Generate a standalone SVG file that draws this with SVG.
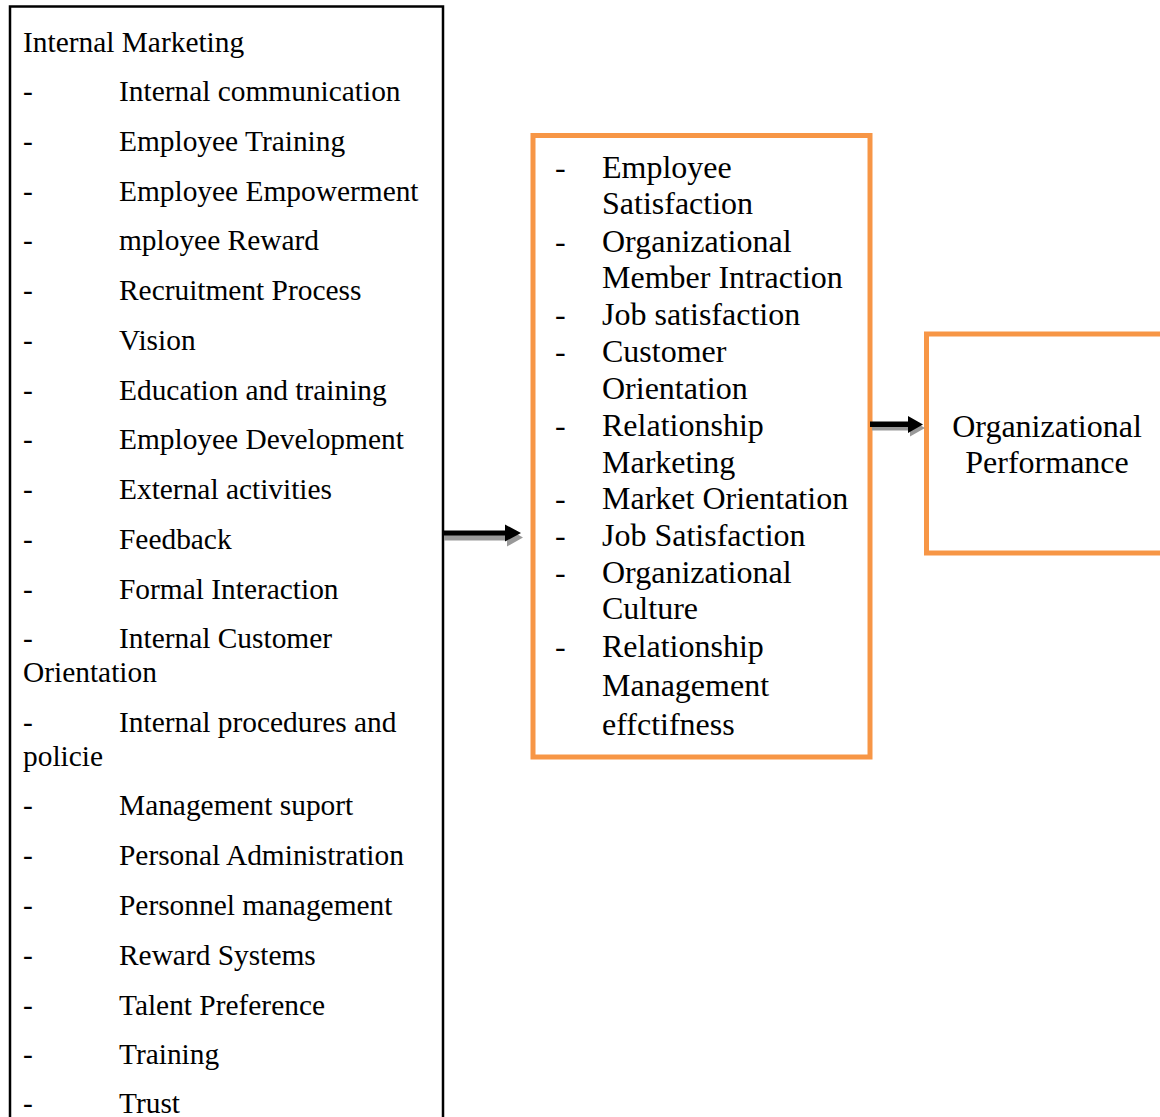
<svg xmlns="http://www.w3.org/2000/svg" width="1160" height="1117" viewBox="0 0 1160 1117">
<style>
.t{font-family:"Liberation Serif","Times New Roman",serif;fill:#000}
.l{font-size:29.4px}
.m{font-size:32px}
.ob{fill:#fff;stroke:#F79646;stroke-width:5}
.bb{fill:#fff;stroke:#000;stroke-width:2.5}
.sh{fill:#999}
.ar{fill:#000}
</style>
<rect width="1160" height="1117" fill="#fff"/>
<g id="internal-marketing">
<rect class="bb" x="10" y="6.5" width="433" height="1200"/>
<g class="t l">
<text x="23" y="52">Internal Marketing</text>
<text x="23" y="101">-</text><text x="119" y="101">Internal communication</text>
<text x="23" y="151">-</text><text x="119" y="151">Employee Training</text>
<text x="23" y="201">-</text><text x="119" y="201">Employee Empowerment</text>
<text x="23" y="250">-</text><text x="119" y="250">mployee Reward</text>
<text x="23" y="300">-</text><text x="119" y="300">Recruitment Process</text>
<text x="23" y="350">-</text><text x="119" y="350">Vision</text>
<text x="23" y="400">-</text><text x="119" y="400">Education and training</text>
<text x="23" y="449">-</text><text x="119" y="449">Employee Development</text>
<text x="23" y="499">-</text><text x="119" y="499">External activities</text>
<text x="23" y="549">-</text><text x="119" y="549">Feedback</text>
<text x="23" y="599">-</text><text x="119" y="599">Formal Interaction</text>
<text x="23" y="648">-</text><text x="119" y="648">Internal Customer</text>
<text x="23" y="682">Orientation</text>
<text x="23" y="732">-</text><text x="119" y="732">Internal procedures and</text>
<text x="23" y="766">policie</text>
<text x="23" y="815">-</text><text x="119" y="815">Management suport</text>
<text x="23" y="865">-</text><text x="119" y="865">Personal Administration</text>
<text x="23" y="915">-</text><text x="119" y="915">Personnel management</text>
<text x="23" y="965">-</text><text x="119" y="965">Reward Systems</text>
<text x="23" y="1015">-</text><text x="119" y="1015">Talent Preference</text>
<text x="23" y="1064">-</text><text x="119" y="1064">Training</text>
<text x="23" y="1113">-</text><text x="119" y="1113">Trust</text>
</g>
</g>
<g id="mediators">
<rect class="ob" x="533" y="135.5" width="337" height="621.5"/>
<g class="t m">
<text x="555" y="178">-</text><text x="602" y="178">Employee</text>
<text x="602" y="214">Satisfaction</text>
<text x="555" y="252">-</text><text x="602" y="252">Organizational</text>
<text x="602" y="288">Member Intraction</text>
<text x="555" y="325">-</text><text x="602" y="325">Job satisfaction</text>
<text x="555" y="362">-</text><text x="602" y="362">Customer</text>
<text x="602" y="399">Orientation</text>
<text x="555" y="436">-</text><text x="602" y="436">Relationship</text>
<text x="602" y="473">Marketing</text>
<text x="555" y="509">-</text><text x="602" y="509">Market Orientation</text>
<text x="555" y="546">-</text><text x="602" y="546">Job Satisfaction</text>
<text x="555" y="583">-</text><text x="602" y="583">Organizational</text>
<text x="602" y="619">Culture</text>
<text x="555" y="657">-</text><text x="602" y="657">Relationship</text>
<text x="602" y="696">Management</text>
<text x="602" y="735">effctifness</text>
</g>
</g>
<g id="organizational-performance">
<rect class="ob" x="926.5" y="334" width="300" height="219"/>
<g class="t m" text-anchor="middle">
<text x="1047" y="437">Organizational</text>
<text x="1047" y="473">Performance</text>
</g>
</g>
<g id="connectors">
<path class="sh" d="M444 534.5h63v-6l16 9-16 9v-6h-63z"/>
<path class="ar" d="M442 530.5h63v-6l16 8.5-16 8.5v-6h-63z"/>
<path class="sh" d="M872 425.5h38v-6l15 8.5-15 8.5v-6h-38z"/>
<path class="ar" d="M870 421.5h38v-5.5l15 8.5-15 8.5v-6h-38z"/>
</g>
</svg>
